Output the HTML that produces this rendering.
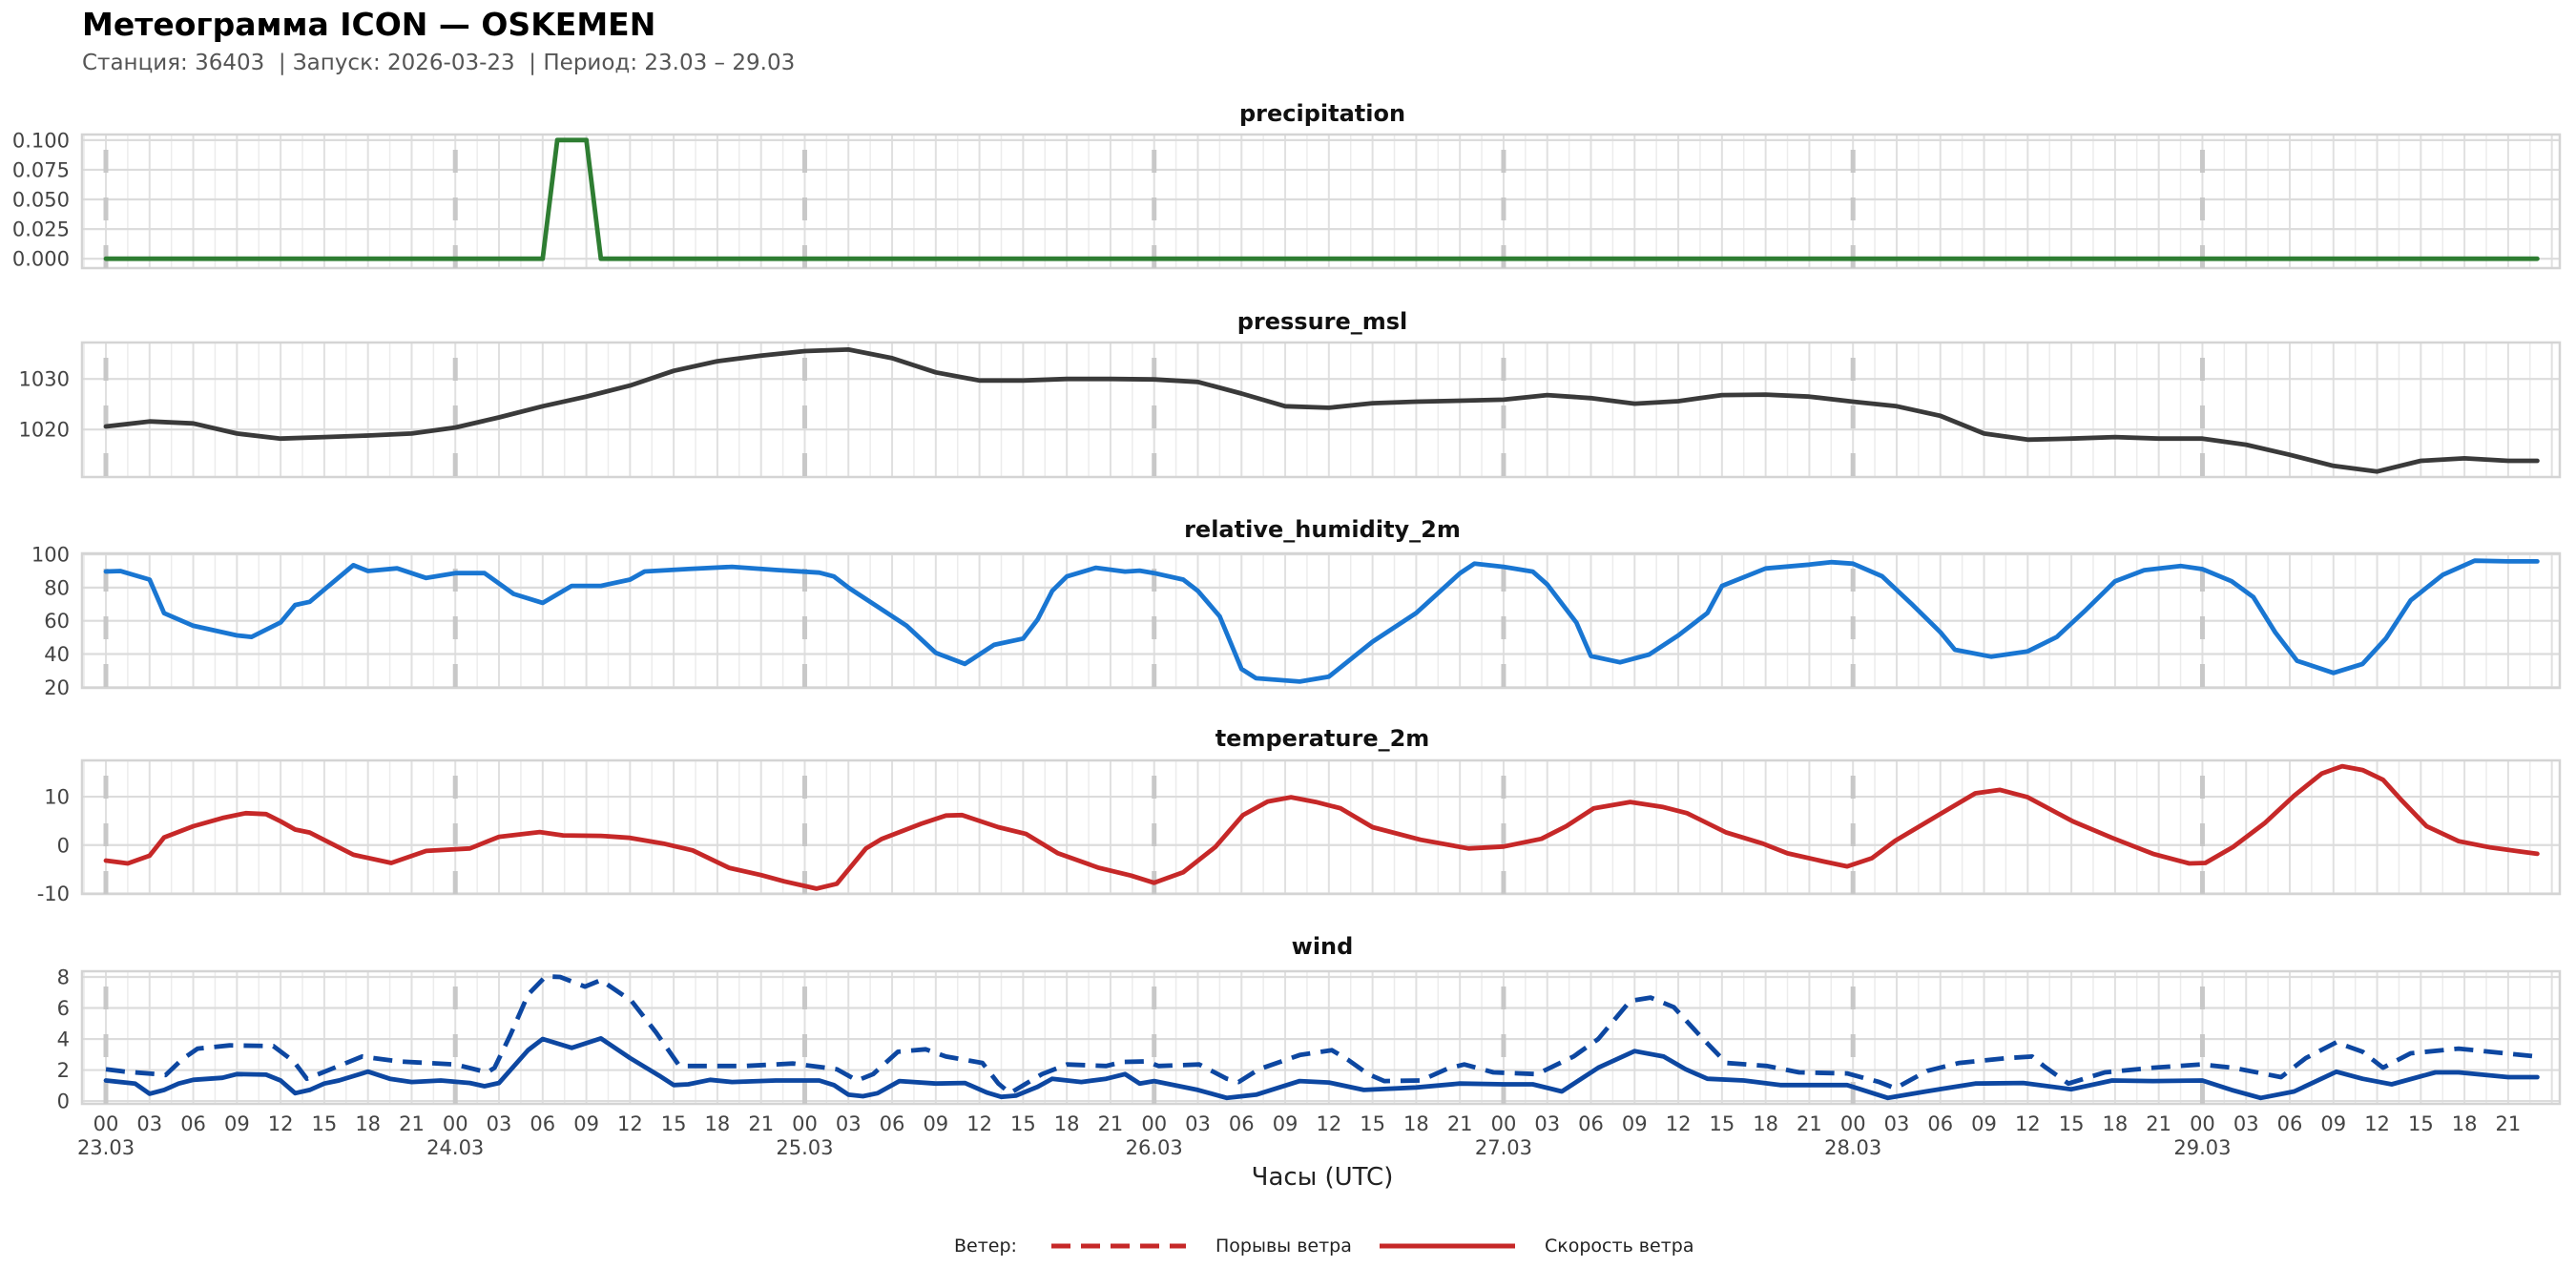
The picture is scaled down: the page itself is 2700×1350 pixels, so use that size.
<!DOCTYPE html>
<html><head><meta charset="utf-8">
<style>
html,body{margin:0;padding:0;background:#fff;}
svg{display:block;font-family:"DejaVu Sans","Liberation Sans",sans-serif;}
</style></head>
<body>
<svg id="chart" width="2700" height="1350" viewBox="0 0 2700 1350" xmlns="http://www.w3.org/2000/svg">
<rect x="0" y="0" width="2700" height="1350" fill="#fff"/>
<text x="86" y="37" font-size="33" font-weight="bold" fill="#000">Метеограмма ICON — OSKEMEN</text>
<text x="86" y="73" font-size="23" fill="#555" xml:space="preserve">Станция: 36403  | Запуск: 2026-03-23  | Период: 23.03 – 29.03</text>
<g id="panels"></g>
<text x="1386" y="1242" font-size="26" fill="#222" text-anchor="middle">Часы (UTC)</text>
<g>
<text x="1000" y="1312" font-size="19" fill="#222">Ветер:</text>
<line x1="1102" y1="1306" x2="1243" y2="1306" stroke="#c62828" stroke-width="5" stroke-dasharray="20,11"/>
<text x="1274" y="1312" font-size="19" fill="#222">Порывы ветра</text>
<line x1="1446" y1="1306" x2="1588" y2="1306" stroke="#c62828" stroke-width="5"/>
<text x="1619" y="1312" font-size="19" fill="#222">Скорость ветра</text>
</g>
</svg>
<script>
// ---- data ----
const precipHours = [0,30,31,32,33,34,167];
const precipValues = [0,0,0.1,0.1,0.1,0,0];

const pressureHours = [0,3,6,9,12,15,18,21,24,27,30,33,36,39,42,45,48,51,54,57,60,63,66,69,72,75,78,81,84,87,90,93,96,99,102,105,108,111,114,117,120,123,126,129,132,135,138,141,144,147,150,153,156,159,162,165,167];
const pressureValues = [1020.6,1021.6,1021.2,1019.2,1018.2,1018.5,1018.8,1019.2,1020.4,1022.4,1024.6,1026.5,1028.7,1031.6,1033.5,1034.6,1035.5,1035.8,1034.1,1031.3,1029.7,1029.7,1030,1030,1029.9,1029.4,1027.1,1024.6,1024.3,1025.2,1025.5,1025.7,1025.9,1026.8,1026.2,1025.1,1025.6,1026.8,1026.9,1026.5,1025.5,1024.6,1022.7,1019.2,1018,1018.2,1018.5,1018.2,1018.2,1017,1015,1012.8,1011.7,1013.8,1014.3,1013.8,1013.8];

const humidityHours = [0,1,3,4,6,9,10,12,13,14,17,18,20,22,24,26,28,30,32,34,36,37,40,43,46,49,50,51,53,55,57,59,61,63,64,65,66,68,70,71,72,74,75,76.5,78,79,82,84,87,90,93,94,96,98,99,101,102,104,106,108,110,111,114,117,118.5,120,122,124,126,127,129.5,132,134,136,138,140,142.5,144,146,147.5,149,150.5,153,155,156.6,158.3,160.5,162.7,165,167];
const humidityValues = [89.7,90,84.8,64.6,57,51.2,50.3,59,69.5,71.4,93.5,90,91.6,85.8,88.7,88.7,76.2,70.8,81,81,84.8,89.7,91.2,92.5,90.6,89,86.7,80,68.5,57,40.7,34,45.5,49.3,60.8,78,86.7,91.9,89.6,90.2,88.7,84.8,78,62.7,31,25.4,23.4,26.3,47.4,64.7,88.6,94.4,92.5,89.6,81.9,58.9,38.8,35,39.7,51.2,64.7,81,91.5,93.8,95.3,94.4,86.8,70.4,53.1,42.6,38.4,41.6,50.3,66.6,83.8,90.5,93,91.1,83.8,74.3,53.1,35.9,28.6,34,49.3,72.3,87.6,96.2,95.8,95.8];

const temperatureHours = [0,1.5,3,4,6,8,9.6,11,12,13,14,17,19.6,22,25,27,29.8,31.4,34,36,38.3,40.3,42.8,45,46.6,48.8,50.2,52.2,53.3,56,57.7,58.8,61.3,63.2,65.4,68.2,70.4,72,74,76.2,78.1,79.8,81.4,83.1,84.8,87,90.3,93.6,96,98.6,100.3,102.2,104.7,106.9,108.6,111.3,113.8,115.5,118,119.6,121.3,122.9,125.7,128.4,130.1,132,135.1,137.8,140.6,143.1,144.2,146.1,148.3,150.3,152.2,153.6,155,156.4,157.7,159.4,161.6,163.8,166,167];
const temperatureValues = [-3.2,-3.8,-2.2,1.6,3.9,5.6,6.6,6.4,4.9,3.2,2.6,-2,-3.7,-1.2,-0.7,1.7,2.7,2,1.9,1.5,0.3,-1.1,-4.7,-6.2,-7.5,-9,-8,-0.7,1.3,4.4,6.1,6.2,3.7,2.3,-1.7,-4.7,-6.3,-7.8,-5.6,-0.4,6.2,9,9.9,8.9,7.6,3.7,1.1,-0.7,-0.3,1.3,3.9,7.6,8.9,7.9,6.6,2.6,0.3,-1.7,-3.4,-4.4,-2.7,0.9,5.9,10.7,11.4,9.9,4.9,1.5,-1.8,-3.8,-3.7,-0.4,4.6,10.2,14.8,16.3,15.5,13.5,9.2,3.9,0.8,-0.5,-1.4,-1.8];

const windHours = [0,2,3,4,5,6,8,9,11,12,13,14,15,16,18,19.5,21,23,25,26,27,29,30,32,34,36,38,39,40,41.5,43,46,49,50,51,52,53,54.5,57,59,60.5,61.5,62.5,64,65,67,68.7,70,71,72,75,77,79,82,84,86.4,90,93,96,98,100,102.5,105,107,108.5,110,112.5,115,119.6,122.4,125,128.4,131.7,135,137.8,140.6,144,146,148,150.3,153.2,155,157,160,161.6,165,167];
const windSpeedValues = [1.33,1.13,0.47,0.72,1.13,1.37,1.5,1.74,1.7,1.33,0.51,0.72,1.13,1.33,1.9,1.44,1.23,1.33,1.17,0.96,1.17,3.28,4,3.43,4.04,2.77,1.64,1.03,1.08,1.37,1.23,1.33,1.33,1.03,0.41,0.31,0.51,1.29,1.13,1.17,0.55,0.27,0.35,0.92,1.44,1.23,1.44,1.74,1.13,1.29,0.72,0.2,0.41,1.29,1.2,0.72,0.88,1.13,1.08,1.08,0.62,2.15,3.22,2.87,2.05,1.44,1.33,1.03,1.03,0.2,0.62,1.13,1.17,0.76,1.33,1.29,1.33,0.72,0.2,0.62,1.89,1.44,1.08,1.85,1.85,1.54,1.54];

const gustHours = [0,1.3,3.5,4.1,5.2,6.3,8.5,11.5,12.9,13.8,14.9,17.6,20.1,24,26.2,26.7,27.8,29,30.2,31.2,32.9,34,36.1,37.8,39.4,40.8,43.9,47.2,50.2,51.6,52.7,54.4,56.3,57.7,60.2,61.3,62.1,64.3,66,68.7,69.8,71.5,72.3,75.1,77,77.8,79.2,82,84.2,85.3,86.7,87.8,90.3,92.2,93.3,95.3,98.3,100.8,102.5,104.7,106.1,107.7,109.6,111.3,114.1,116.3,119.6,121.8,122.9,125.1,127.3,130.6,132.3,133.1,134.8,137.3,140.6,143.9,146.1,149.4,151.1,153.2,155,156.4,158.3,161.6,167];
const gustValues = [2.05,1.9,1.74,1.68,2.67,3.38,3.59,3.55,2.56,1.44,1.85,2.87,2.56,2.36,1.85,2.15,4.3,6.87,8.04,8,7.38,7.8,6.46,4.41,2.26,2.26,2.26,2.42,2.05,1.33,1.74,3.18,3.34,2.87,2.46,1.13,0.51,1.74,2.36,2.26,2.52,2.56,2.26,2.36,1.44,1.23,2.05,2.97,3.28,2.67,1.74,1.29,1.33,2.11,2.36,1.85,1.74,2.87,4,6.46,6.67,6.05,4.1,2.46,2.26,1.85,1.78,1.23,0.82,1.95,2.46,2.77,2.87,2.26,1.13,1.85,2.15,2.36,2.15,1.54,2.77,3.79,3.18,2.15,3.08,3.38,2.87];

const hourTickLabels = ["00","03","06","09","12","15","18","21"];
const dayLabels = ["23.03","24.03","25.03","26.03","27.03","28.03","29.03"];
const precipTicks = [0,0.025,0.05,0.075,0.1];
const pressureTicks = [1020,1030];
const humidityTicks = [20,40,60,80,100];
const temperatureTicks = [-10,0,10];
const windTicks = [0,2,4,6,8];

// ---- layout ----
const NS = "http://www.w3.org/2000/svg";
const X0 = 111, PXH = 15.26, PLOT_L = 86, PLOT_R = 2683;
function xScale(h){ return X0 + h*PXH; }
function mk(tag, attrs, parent){
  const e = document.createElementNS(NS, tag);
  for (const k in attrs) e.setAttribute(k, attrs[k]);
  parent.appendChild(e);
  return e;
}
const root = document.getElementById('panels');

const panels = [
  {key:'precipitation', title:'precipitation', top:141, bottom:281, min:-0.0079, max:0.1047, ticks:precipTicks, fmt:v=>v.toFixed(3), titleY:127},
  {key:'pressure', title:'pressure_msl', top:359, bottom:500, min:1010.6, max:1037.2, ticks:pressureTicks, fmt:v=>String(v), titleY:345},
  {key:'humidity', title:'relative_humidity_2m', top:580, bottom:721, min:19.6, max:100.6, ticks:humidityTicks, fmt:v=>String(v), titleY:563},
  {key:'temperature', title:'temperature_2m', top:797, bottom:937, min:-10.1, max:17.5, ticks:temperatureTicks, fmt:v=>String(v), titleY:782},
  {key:'wind', title:'wind', top:1018, bottom:1157, min:-0.18, max:8.37, ticks:windTicks, fmt:v=>String(v), titleY:1000}
];

function yScaleFor(p){ return v => p.bottom - (v - p.min)/(p.max - p.min)*(p.bottom - p.top); }

function drawLine(g, hours, vals, ys, color, dash, name){
  const pts = hours.map((h,i)=> xScale(h).toFixed(1)+','+ys(vals[i]).toFixed(1)).join(' ');
  const pl = mk('polyline', {points:pts, fill:'none', stroke:color, 'stroke-width':4.8, 'stroke-linejoin':'round', 'stroke-linecap': dash ? 'butt' : 'round'}, g);
  if (dash) pl.setAttribute('stroke-dasharray', dash);
  
  
}

panels.forEach(p => {
  const ys = yScaleFor(p);
  const g = mk('g', {}, root);
  
  
  const t = mk('text', {x:1386, y:p.titleY, 'font-size':24, 'font-weight':'bold', fill:'#111', 'text-anchor':'middle'}, g);
  t.textContent = p.title;
  
  
  for (let h = -1.5; h <= 172; h += 1.5) {
    const x = xScale(h);
    if (x < PLOT_L || x > PLOT_R) continue;
    const major = Math.abs(h/3 - Math.round(h/3)) < 1e-6;
    const gl = mk('line', {x1:x, x2:x, y1:p.top, y2:p.bottom, stroke: major ? '#e0e0e0' : '#ececec', 'stroke-width': major ? 2 : 1.5}, g);
    
    
  }
  p.ticks.forEach(v => {
    const y = ys(v);
    const hl = mk('line', {x1:PLOT_L, x2:PLOT_R, y1:y, y2:y, stroke:'#dcdcdc', 'stroke-width':2.2}, g);
    
    
    const tl = mk('text', {x:73, y:y+7.5, 'font-size':21, fill:'#444', 'text-anchor':'end'}, g);
    tl.textContent = p.fmt(v);
    
    
  });
  const fr = mk('rect', {x:PLOT_L, y:p.top, width:PLOT_R-PLOT_L, height:p.bottom-p.top, fill:'none', stroke:'#d4d4d4', 'stroke-width':2.5}, g);
  
  
  for (let d = 0; d < dayLabels.length; d++) {
    const x = xScale(d*24);
    const dl = mk('line', {x1:x, x2:x, y1:p.top+16, y2:p.bottom, stroke:'#c8c8c8', 'stroke-width':5, 'stroke-dasharray':'24,26'}, g);
    
    
  }
  if (p.key === 'precipitation') drawLine(g, precipHours, precipValues, ys, '#2e7d32', null, 'precipitation-line');
  if (p.key === 'pressure') drawLine(g, pressureHours, pressureValues, ys, '#3a3a3a', null, 'pressure-line');
  if (p.key === 'humidity') drawLine(g, humidityHours, humidityValues, ys, '#1976d2', null, 'humidity-line');
  if (p.key === 'temperature') drawLine(g, temperatureHours, temperatureValues, ys, '#c62828', null, 'temperature-line');
  if (p.key === 'wind') {
    drawLine(g, gustHours, gustValues, ys, '#0d47a1', '20,11', 'wind-gust-line');
    drawLine(g, windHours, windSpeedValues, ys, '#0d47a1', null, 'wind-speed-line');
  }
});

const xg = mk('g', {}, root);


for (let d = 0; d < dayLabels.length; d++) {
  hourTickLabels.forEach((lab, i) => {
    const x = xScale(d*24 + i*3);
    const t = mk('text', {x:x, y:1185, 'font-size':21, fill:'#444', 'text-anchor':'middle'}, xg);
    t.textContent = lab;
    
    
  });
  const dt = mk('text', {x:xScale(d*24), y:1210, 'font-size':21, fill:'#444', 'text-anchor':'middle'}, xg);
  dt.textContent = dayLabels[d];
  
  
}
</script>
</body></html>
